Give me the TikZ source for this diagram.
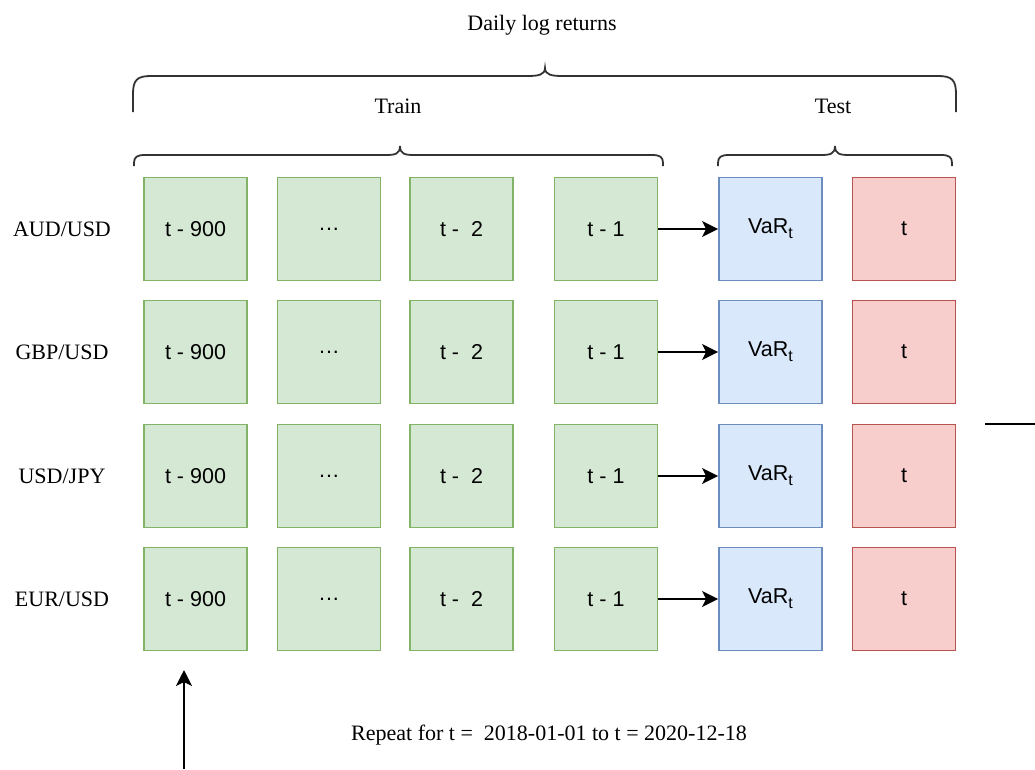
\documentclass[tikz,border=0pt]{standalone}
\usepackage{fontspec}
\setmainfont{Liberation Serif}
\newfontfamily\boxfont{Liberation Sans}
\usetikzlibrary{arrows.meta}
\definecolor{gfill}{HTML}{D5E8D4}
\definecolor{gline}{HTML}{82B366}
\definecolor{bfill}{HTML}{DAE8FC}
\definecolor{bline}{HTML}{6C8EBF}
\definecolor{rfill}{HTML}{F8CECC}
\definecolor{rline}{HTML}{B85450}
\definecolor{brace}{HTML}{333333}
\newcommand{\subt}{\raisebox{-0.45ex}{\fontsize{16}{16}\selectfont t}}
\begin{document}
\begin{tikzpicture}[x=1pt,y=-1pt,
  cell/.style={minimum width=103pt,minimum height=103pt,inner sep=0pt,line width=1.8pt,
    font=\boxfont\fontsize{21.5}{24}\selectfont},
  train/.style={cell,fill=gfill,draw=gline},
  var/.style={cell,fill=bfill,draw=bline},
  actual/.style={cell,fill=rfill,draw=rline},
  lbl/.style={font=\fontsize{22}{26}\selectfont,inner sep=0pt},
  bracepath/.style={draw=brace,line width=1.8pt},
  conn/.style={line width=1.8pt,-{Stealth[length=16pt,width=16pt,inset=4pt]}}]
\useasboundingbox (0,0) rectangle (1035,769);

\node[lbl] (title) at (542,25) {Daily log returns};
\node[lbl] (trainlbl) at (398,106) {Train};
\node[lbl] (testlbl) at (833,106) {Test};
\node[lbl] (repeat) at (549,735) {Repeat for t =\ \ 2018-01-01 to t = 2020-12-18};

% braces
\draw[bracepath] (133,112) -- (133,94) .. controls (133,80) and (137,76) .. (151,76)
  -- (527,76) .. controls (538,76) and (545,75) .. (545,68)
  .. controls (545,75) and (552,76) .. (563,76)
  -- (938,76) .. controls (952,76) and (956,80) .. (956,94) -- (956,112);
\draw[bracepath] (134,166) -- (134,163) .. controls (134,157) and (137,155) .. (145,155)
  -- (386,155) .. controls (395,155) and (400,154) .. (400,146)
  .. controls (400,154) and (405,155) .. (414,155)
  -- (652,155) .. controls (660,155) and (663,157) .. (663,163) -- (663,166);
\draw[bracepath] (718,166) -- (718,163) .. controls (718,157) and (721,155) .. (729,155)
  -- (821,155) .. controls (830,155) and (835,154) .. (835,146)
  .. controls (835,154) and (840,155) .. (849,155)
  -- (941,155) .. controls (949,155) and (952,157) .. (952,163) -- (952,166);

% rows
\foreach \r/\y/\pair in {1/229/AUD\slash USD,2/352/GBP\slash USD,3/476/USD\slash JPY,4/599/EUR\slash USD}{
  \node[lbl] (pair\r) at (62,\y) {\pair};
  \node[train] (a\r) at (195.5,\y) {t - 900};
  \node[train] (b\r) at (329,\y) {.\kern1pt.\kern1pt.};
  \node[train] (c\r) at (461.5,\y) {t -\ \ 2};
  \node[train] (d\r) at (606,\y) {t - 1};
  \node[var] (v\r) at (770.5,\y) {VaR\subt};
  \node[actual] (t\r) at (904,\y) {t};
  \draw[conn] (d\r.east) -- (v\r.west);
}

% loose connectors
\coordinate (loopstart) at (985,424);
\coordinate (loopend) at (1035,424);
\draw[line width=1.8pt] (loopstart) -- (loopend);
\coordinate (backbottom) at (184,769);
\coordinate (backtop) at (184,670);
\draw[conn] (backbottom) -- (backtop);
\end{tikzpicture}
\end{document}
